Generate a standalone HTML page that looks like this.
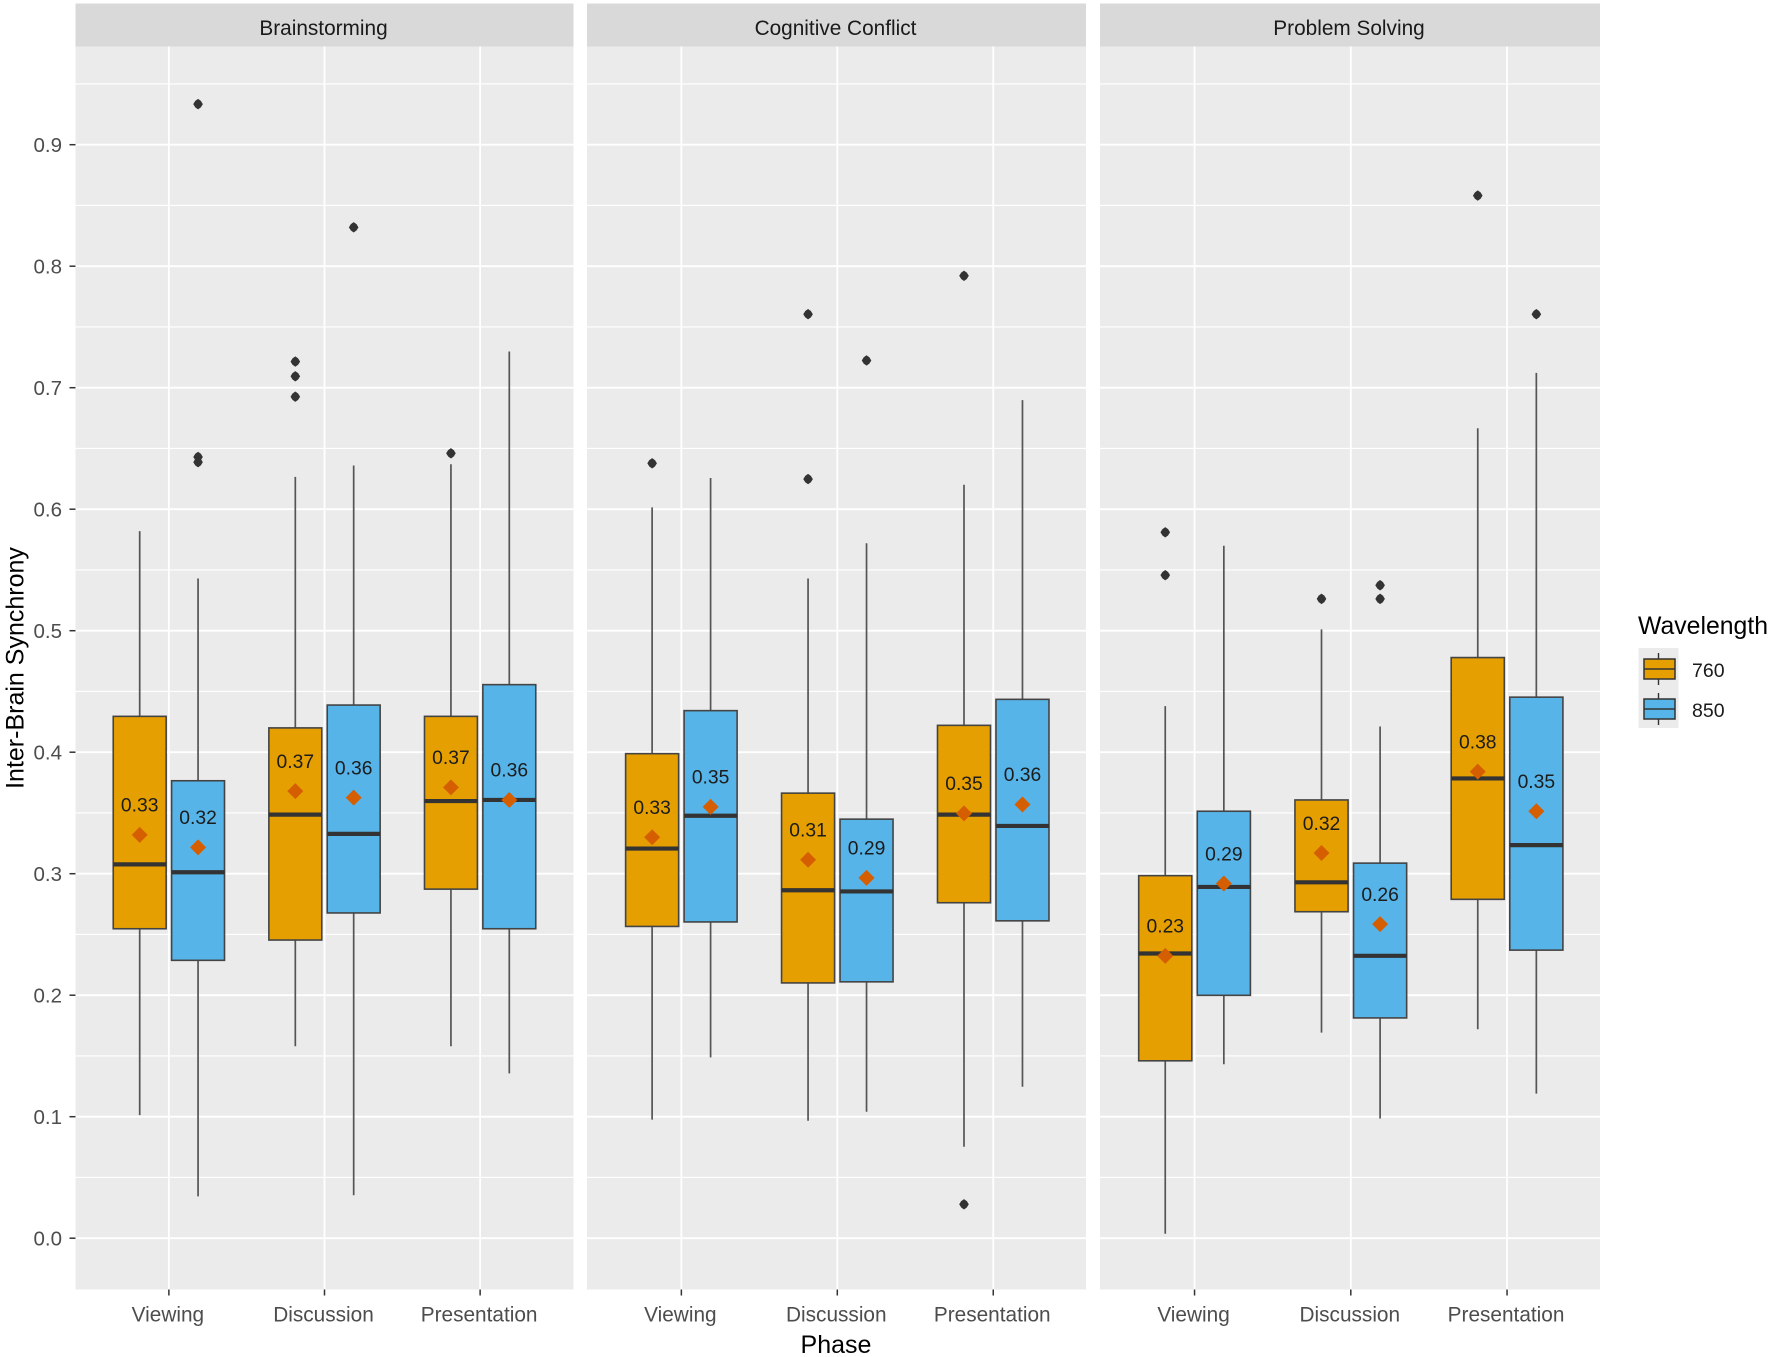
<!DOCTYPE html>
<html lang="en">
<head>
<meta charset="utf-8">
<title>Inter-Brain Synchrony by Phase and Wavelength</title>
<style>
html,body{margin:0;padding:0;background:#fff;}
svg{display:block;font-family:"Liberation Sans",Arial,sans-serif;}
</style>
</head>
<body>
<svg id="chart" xmlns="http://www.w3.org/2000/svg" width="1772" height="1357" viewBox="0 0 1772 1357"></svg>
<script>
// ---- Data (order: facet > phase > wavelength 760, 850) ----
const facets = ["Brainstorming", "Cognitive Conflict", "Problem Solving"];
const phases = ["Viewing", "Discussion", "Presentation"];
const wavelengths = ["760", "850"];
const yTickValues = [0.0, 0.1, 0.2, 0.3, 0.4, 0.5, 0.6, 0.7, 0.8, 0.9];
const yMinorValues = [0.05, 0.15, 0.25, 0.35, 0.45, 0.55, 0.65, 0.75, 0.85, 0.95];
const q1Values = [
  0.2547, 0.2287, 0.2454, 0.2677, 0.2873, 0.2547,
  0.2566, 0.2603, 0.2101, 0.2110, 0.2761, 0.2612,
  0.1460, 0.1999, 0.2687, 0.1813, 0.2789, 0.2371
];
const medianValues = [
  0.3077, 0.3012, 0.3486, 0.3328, 0.3598, 0.3607,
  0.3207, 0.3477, 0.2864, 0.2854, 0.3486, 0.3393,
  0.2343, 0.2891, 0.2929, 0.2324, 0.3784, 0.3235
];
const q3Values = [
  0.4295, 0.3765, 0.4200, 0.4388, 0.4295, 0.4556,
  0.3988, 0.4342, 0.3663, 0.3449, 0.4221, 0.4435,
  0.2984, 0.3514, 0.3607, 0.3087, 0.4779, 0.4453
];
const whiskerLowValues = [
  0.1013, 0.0344, 0.1580, 0.0353, 0.1580, 0.1357,
  0.0976, 0.1488, 0.0967, 0.1041, 0.0753, 0.1246,
  0.0037, 0.1432, 0.1692, 0.0985, 0.1720, 0.1190
];
const whiskerHighValues = [
  0.5820, 0.5430, 0.6266, 0.6360, 0.6370, 0.7298,
  0.6015, 0.6257, 0.5430, 0.5720, 0.6201, 0.6898,
  0.4379, 0.5699, 0.5011, 0.4212, 0.6666, 0.7122
];
const meanValues = [
  0.3320, 0.3217, 0.3680, 0.3626, 0.3710, 0.3607,
  0.3300, 0.3550, 0.3115, 0.2966, 0.3496, 0.3570,
  0.2324, 0.2919, 0.3170, 0.2585, 0.3840, 0.3514
];
const meanLabels = [
  "0.33", "0.32", "0.37", "0.36", "0.37", "0.36",
  "0.33", "0.35", "0.31", "0.29", "0.35", "0.36",
  "0.23", "0.29", "0.32", "0.26", "0.38", "0.35"
];
const outlierValues = [
  [], [0.9334, 0.6430, 0.6387], [0.7215, 0.7094, 0.6926], [0.8320], [0.6460], [],
  [0.6378], [], [0.7605, 0.6248], [0.7224], [0.7921, 0.0279], [],
  [0.5810, 0.5457], [], [0.5262], [0.5374, 0.5262], [0.8581], [0.7605]
];

// ---- Layout ----
const panelLeft = [75.5, 587, 1100];
const panelWidth = [498, 499, 500];
const panelShift = [0, 0.8, 0.8];
const panelTop = 46.5, panelBottom = 1289.5, stripTop = 3.5;
const fills = ["#E69F00", "#56B4E9"];
const NS = "http://www.w3.org/2000/svg";
const svg = document.getElementById("chart");

function mk(tag, attrs, parent) {
  const n = document.createElementNS(NS, tag);
  for (const k in attrs) n.setAttribute(k, attrs[k]);
  (parent || svg).appendChild(n);
  return n;
}
function yScale(v) { return 1238.2 - 1215 * v; }
function xPhase(f, p) { return panelLeft[f] + panelShift[f] + panelWidth[f] * (p + 0.6) / 3.2; }
function xDodge(f, p, w) { return xPhase(f, p) + (w === 0 ? -1 : 1) * panelWidth[f] * 0.1875 / 3.2; }
function boxWidth(f) { return panelWidth[f] * 0.34 / 3.2; }
function outlierPath(x, y) {
  return "M" + x + " " + (y - 5.2) + "L" + (x + 2.8) + " " + (y - 3.2) + "L" + (x + 4.8) + " " + y +
    "L" + (x + 2.8) + " " + (y + 3.2) + "L" + x + " " + (y + 5.2) + "L" + (x - 2.8) + " " + (y + 3.2) +
    "L" + (x - 4.8) + " " + y + "L" + (x - 2.8) + " " + (y - 3.2) + "Z";
}

let el;

// Facets: strip, panel, grid, ticks
facets.forEach(function (name, f) {
  const L = panelLeft[f], W = panelWidth[f];

  el = mk("rect", {x: L, y: stripTop, width: W, height: panelTop - stripTop, fill: "#d9d9d9"});
  
  

  el = mk("text", {x: L + W / 2 - 1, y: 27.5, dy: ".35em", "text-anchor": "middle", "font-size": "20.8", fill: "#1a1a1a"});
  
  
  el.textContent = name;

  el = mk("rect", {x: L, y: panelTop, width: W, height: panelBottom - panelTop, fill: "#ebebeb"});
  
  

  yMinorValues.forEach(function (v) {
    el = mk("line", {x1: L, x2: L + W, y1: yScale(v), y2: yScale(v), stroke: "#fff", "stroke-width": 1.2});
    
    
  });
  yTickValues.forEach(function (v) {
    el = mk("line", {x1: L, x2: L + W, y1: yScale(v), y2: yScale(v), stroke: "#fff", "stroke-width": 1.8});
    
    
  });
  phases.forEach(function (ph, p) {
    const x = xPhase(f, p);
    el = mk("line", {x1: x, x2: x, y1: panelTop, y2: panelBottom, stroke: "#fff", "stroke-width": 1.8});
    
    

    el = mk("line", {x1: x, x2: x, y1: panelBottom, y2: panelBottom + 6, stroke: "#333", "stroke-width": 1.5});
    
    

    el = mk("text", {x: x - 1, y: 1314, dy: ".35em", "text-anchor": "middle", "font-size": "20.8", fill: "#4d4d4d"});
    
    
    el.textContent = ph;
  });
});

// Y axis ticks and labels
yTickValues.forEach(function (v) {
  el = mk("line", {x1: 69.5, x2: 75.5, y1: yScale(v), y2: yScale(v), stroke: "#333", "stroke-width": 1.5});
  
  

  el = mk("text", {x: 62, y: yScale(v), dy: ".35em", "text-anchor": "end", "font-size": "20.5", fill: "#4d4d4d"});
  
  
  el.textContent = v.toFixed(1);
});

// Boxplots
facets.forEach(function (name, f) {
  phases.forEach(function (ph, p) {
    wavelengths.forEach(function (wl, w) {
      const i = f * 6 + p * 2 + w;
      const cx = xDodge(f, p, w), bw = boxWidth(f);

      el = mk("line", {x1: cx, x2: cx, y1: yScale(whiskerHighValues[i]), y2: yScale(q3Values[i]), stroke: "#555", "stroke-width": 1.7});
      
      

      el = mk("line", {x1: cx, x2: cx, y1: yScale(q1Values[i]), y2: yScale(whiskerLowValues[i]), stroke: "#555", "stroke-width": 1.7});
      
      

      el = mk("rect", {x: cx - bw / 2, y: yScale(q3Values[i]), width: bw, height: yScale(q1Values[i]) - yScale(q3Values[i]), fill: fills[w], stroke: "#444", "stroke-width": 1.6});
      
      

      el = mk("line", {x1: cx - bw / 2, x2: cx + bw / 2, y1: yScale(medianValues[i]), y2: yScale(medianValues[i]), stroke: "#333", "stroke-width": 4.2});
      
      

      outlierValues[i].forEach(function (o) {
        el = mk("path", {d: outlierPath(cx, yScale(o)), fill: "#333"});
        
        
      });

      const my = yScale(meanValues[i]);
      el = mk("path", {d: "M" + cx + " " + (my - 8) + "L" + (cx + 8) + " " + my + "L" + cx + " " + (my + 8) + "L" + (cx - 8) + " " + my + "Z", fill: "#D55E00"});
      
      

      el = mk("text", {x: cx, y: my - 30, dy: ".35em", "text-anchor": "middle", "font-size": "19.3", fill: "#1c1c1c"});
      
      
      el.textContent = meanLabels[i];
    });
  });
});

// Axis titles
el = mk("text", {x: 836, y: 1344, dy: ".35em", "text-anchor": "middle", "font-size": "25", fill: "#000"});


el.textContent = "Phase";

el = mk("text", {x: 0, y: 0, dy: ".35em", "text-anchor": "middle", "font-size": "25", fill: "#000", transform: "translate(14.5 668) rotate(-90)"});


el.textContent = "Inter-Brain Synchrony";

// Legend
el = mk("text", {x: 1638, y: 634, "font-size": "24.8", fill: "#000"});


el.textContent = "Wavelength";

el = mk("rect", {x: 1638.5, y: 648, width: 40, height: 80, fill: "#ebebeb"});



wavelengths.forEach(function (wl, w) {
  const top = 648 + w * 40;

  el = mk("line", {x1: 1658.5, x2: 1658.5, y1: top + 5, y2: top + 37, stroke: "#333", "stroke-width": 1.4});
  
  

  el = mk("rect", {x: 1644, y: top + 11, width: 31, height: 20, fill: fills[w], stroke: "#333", "stroke-width": 1.5});
  
  

  el = mk("line", {x1: 1644, x2: 1675, y1: top + 21, y2: top + 21, stroke: "#333", "stroke-width": 1.5});
  
  

  el = mk("text", {x: 1692, y: top + 22, dy: ".35em", "font-size": "19.5", fill: "#1a1a1a"});
  
  
  el.textContent = wl;
});
</script>
</body>
</html>
